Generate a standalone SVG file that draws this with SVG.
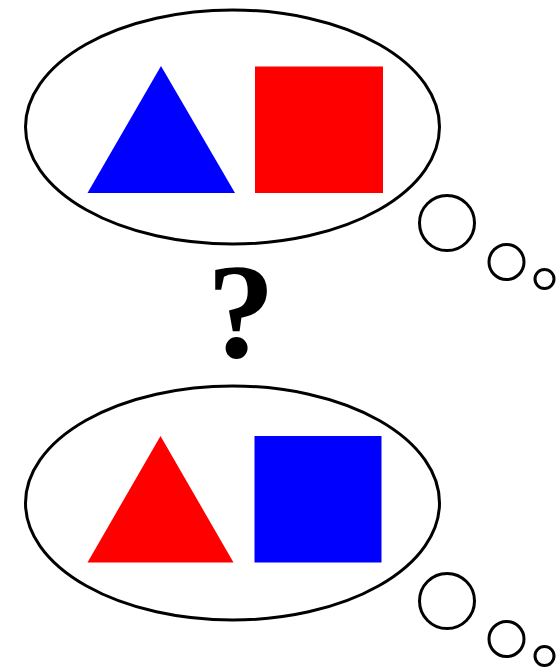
<svg xmlns="http://www.w3.org/2000/svg" width="559" height="667" viewBox="0 0 559 667">
<style>
.o{fill:none;stroke:#000;stroke-width:3}
.q{font-family:"Liberation Serif","Times New Roman",serif;font-weight:bold;font-size:136px;fill:#000}
</style>
<rect width="559" height="667" fill="#fff"/>
<g id="thought-top">
<ellipse class="o" cx="232.5" cy="127" rx="207" ry="117"/>
<polygon points="161,66 87.5,193 235,193" fill="#0000ff"/>
<rect x="255" y="66.5" width="128" height="126.5" fill="#ff0000"/>
<circle class="o" cx="447" cy="223" r="27.5"/>
<circle class="o" cx="506.5" cy="262" r="17.5"/>
<circle class="o" cx="544.5" cy="279" r="9.5"/>
</g>
<g id="question">
<text class="q" x="241" y="357" text-anchor="middle">?</text>
</g>
<g id="thought-bottom">
<ellipse class="o" cx="232.5" cy="503" rx="207" ry="117"/>
<polygon points="160.5,436 87.5,562.5 233.5,562.5" fill="#ff0000"/>
<rect x="254.5" y="436" width="127" height="126.5" fill="#0000ff"/>
<circle class="o" cx="447" cy="601" r="27.5"/>
<circle class="o" cx="506.5" cy="639" r="17.5"/>
<circle class="o" cx="544.5" cy="656" r="9.5"/>
</g>
<g id="connectors"></g>
</svg>
